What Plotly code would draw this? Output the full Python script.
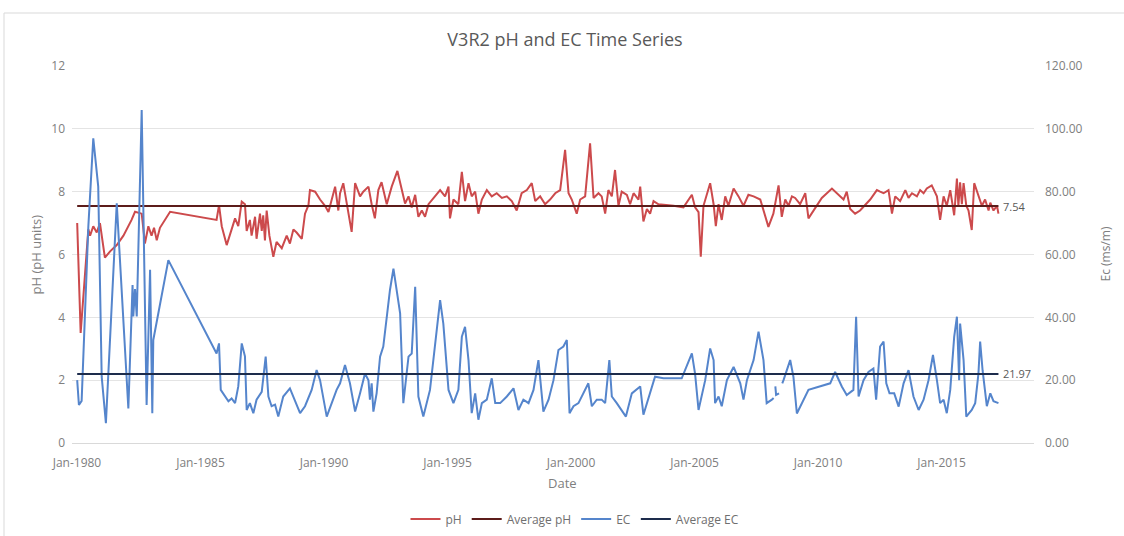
import datetime as dt
import plotly.graph_objects as go

# ---------------- data ----------------
ph_years = [1980.01, 1980.15, 1980.46, 1980.53, 1980.66, 1980.80, 1980.93, 1981.13, 1981.34, 1981.61,
            1981.88, 1982.08, 1982.21, 1982.35, 1982.62, 1982.75, 1982.89, 1983.02, 1983.12, 1983.23,
            1983.36, 1983.77, 1985.65, 1985.75, 1985.86, 1986.06, 1986.26, 1986.40, 1986.53, 1986.67,
            1986.80, 1986.87, 1987.00, 1987.07, 1987.21, 1987.27, 1987.41, 1987.48, 1987.54, 1987.61,
            1987.68, 1987.79, 1987.95, 1988.08, 1988.29, 1988.49, 1988.62, 1988.76, 1988.89, 1989.10,
            1989.23, 1989.37, 1989.43, 1989.64, 1989.84, 1990.04, 1990.18, 1990.31, 1990.45, 1990.58,
            1990.65, 1990.78, 1990.92, 1991.12, 1991.26, 1991.46, 1991.59, 1991.80, 1991.93, 1992.06,
            1992.20, 1992.33, 1992.54, 1992.74, 1992.97, 1993.15, 1993.28, 1993.42, 1993.55, 1993.69,
            1993.82, 1993.96, 1994.09, 1994.23, 1994.50, 1994.70, 1994.90, 1995.04, 1995.10, 1995.24,
            1995.44, 1995.58, 1995.71, 1995.85, 1995.98, 1996.12, 1996.25, 1996.39, 1996.59, 1996.79,
            1996.99, 1997.20, 1997.40, 1997.60, 1997.80, 1998.00, 1998.21, 1998.41, 1998.55, 1998.75,
            1998.95, 1999.15, 1999.36, 1999.56, 1999.76, 1999.90, 2000.03, 2000.23, 2000.37, 2000.57,
            2000.77, 2000.91, 2001.11, 2001.24, 2001.38, 2001.51, 2001.65, 2001.78, 2001.92, 2002.05,
            2002.26, 2002.39, 2002.53, 2002.73, 2002.80, 2002.93, 2003.07, 2003.20, 2003.34, 2003.54,
            2004.15, 2004.55, 2004.89, 2005.02, 2005.16, 2005.25, 2005.36, 2005.63, 2005.77, 2005.86,
            2005.97, 2006.10, 2006.24, 2006.37, 2006.58, 2006.78, 2006.98, 2007.18, 2007.39, 2007.66,
            2007.99, 2008.19, 2008.40, 2008.53, 2008.67, 2008.80, 2008.94, 2009.07, 2009.27, 2009.48,
            2009.61, 2009.81, 2010.15, 2010.56, 2011.03, 2011.16, 2011.30, 2011.50, 2011.70, 2012.11,
            2012.38, 2012.51, 2012.65, 2012.85, 2012.99, 2013.12, 2013.32, 2013.53, 2013.66, 2013.80,
            2014.00, 2014.13, 2014.27, 2014.40, 2014.60, 2014.81, 2014.94, 2015.08, 2015.21, 2015.35,
            2015.51, 2015.62, 2015.68, 2015.75, 2015.82, 2015.89, 2016.00, 2016.09, 2016.22, 2016.32,
            2016.49, 2016.63, 2016.76, 2016.90, 2016.97, 2017.10, 2017.24, 2017.30]
ph_values = [7.0, 3.5, 6.8, 6.6, 6.9, 6.7, 7.0, 5.9, 6.1, 6.3,
             6.6, 6.9, 7.1, 7.36, 7.3, 6.35, 6.9, 6.6, 6.85, 6.45,
             6.85, 7.36, 7.1, 7.57, 6.9, 6.3, 6.8, 7.15, 6.9, 7.68,
             7.6, 6.75, 7.1, 6.6, 7.2, 6.5, 7.3, 6.75, 7.25, 6.45,
             7.4, 6.6, 5.93, 6.4, 6.2, 6.6, 6.35, 6.8, 6.7, 6.5,
             7.3, 7.57, 8.05, 8.0, 7.75, 7.55, 7.35, 7.7, 8.16, 7.4,
             7.95, 8.27, 7.6, 6.72, 8.27, 7.85, 8.0, 8.16, 7.6, 7.15,
             8.05, 8.3, 7.6, 8.16, 8.66, 8.05, 7.62, 7.85, 7.5, 7.9,
             7.2, 7.4, 7.2, 7.6, 7.85, 8.05, 7.85, 8.16, 7.15, 7.75,
             7.6, 8.63, 7.7, 8.27, 7.85, 8.0, 7.3, 7.75, 8.05, 7.85,
             7.95, 7.8, 7.85, 7.7, 7.4, 7.95, 8.05, 8.27, 7.7, 7.85,
             7.6, 7.75, 7.95, 8.05, 9.33, 7.95, 7.75, 7.3, 7.75, 7.85,
             9.54, 7.8, 7.95, 7.85, 7.3, 8.05, 7.85, 8.69, 7.55, 8.0,
             7.9, 7.6, 7.95, 7.75, 8.16, 7.05, 7.45, 7.3, 7.7, 7.6,
             7.55, 7.5, 7.9, 7.5, 7.35, 5.93, 7.55, 8.27, 7.6, 6.9,
             7.6, 7.1, 7.85, 7.55, 8.1, 7.85, 7.55, 7.9, 7.85, 7.75,
             6.88, 7.3, 8.2, 7.2, 7.75, 7.55, 7.85, 7.8, 7.6, 7.95,
             7.15, 7.4, 7.8, 8.1, 7.75, 8.0, 7.45, 7.3, 7.4, 7.75,
             8.05, 8.0, 7.95, 8.05, 7.3, 7.85, 7.7, 8.05, 7.8, 7.95,
             7.85, 8.05, 7.95, 8.1, 8.2, 7.85, 7.1, 7.85, 7.55, 8.05,
             7.25, 8.42, 7.55, 8.3, 7.6, 8.27, 7.55, 7.4, 6.78, 8.27,
             7.85, 7.55, 7.75, 7.4, 7.65, 7.4, 7.55, 7.3]

ec_years = [1980.01, 1980.08, 1980.19, 1980.46, 1980.66, 1980.86, 1981.00, 1981.17, 1981.61, 1981.81,
            1982.08, 1982.25, 1982.28, 1982.35, 1982.42, 1982.62, 1982.82, 1982.96, 1983.05, 1983.09,
            1983.70, 1985.65, 1985.75, 1985.82, 1985.99, 1986.13, 1986.26, 1986.40, 1986.53, 1986.67,
            1986.80, 1986.87, 1987.00, 1987.14, 1987.27, 1987.48, 1987.64, 1987.75, 1987.88, 1988.02,
            1988.15, 1988.35, 1988.62, 1988.83, 1989.03, 1989.23, 1989.50, 1989.70, 1989.84, 1990.11,
            1990.31, 1990.51, 1990.65, 1990.85, 1991.05, 1991.26, 1991.46, 1991.66, 1991.80, 1991.86,
            1991.93, 1992.00, 1992.13, 1992.27, 1992.40, 1992.54, 1992.67, 1992.81, 1992.94, 1993.08,
            1993.21, 1993.42, 1993.55, 1993.69, 1993.82, 1994.02, 1994.29, 1994.50, 1994.70, 1994.83,
            1995.04, 1995.24, 1995.44, 1995.58, 1995.71, 1995.85, 1995.98, 1996.12, 1996.25, 1996.39,
            1996.59, 1996.79, 1996.93, 1997.13, 1997.40, 1997.67, 1997.87, 1998.07, 1998.28, 1998.48,
            1998.68, 1998.88, 1999.09, 1999.29, 1999.49, 1999.69, 1999.83, 1999.94, 2000.10, 2000.30,
            2000.50, 2000.70, 2000.84, 2001.04, 2001.24, 2001.38, 2001.55, 2001.65, 2001.85, 2002.05,
            2002.22, 2002.46, 2002.80, 2002.93, 2003.20, 2003.40, 2003.74, 2004.48, 2004.89, 2005.02,
            2005.16, 2005.29, 2005.43, 2005.63, 2005.77, 2005.83, 2005.97, 2006.10, 2006.31, 2006.58,
            2006.85, 2006.98, 2007.12, 2007.39, 2007.59, 2007.79, 2007.92, 2008.13, 2008.20, None,
            2008.27, 2008.30, 2008.42, None, 2008.55, 2008.60, 2008.87, 2009.00, 2009.14, 2009.61,
            2010.49, 2010.69, 2010.96, 2011.16, 2011.43, 2011.54, 2011.64, 2011.84, 2012.04, 2012.24,
            2012.35, 2012.45, 2012.51, 2012.65, 2012.76, 2012.89, 2013.08, 2013.26, 2013.46, 2013.66,
            2013.86, 2014.07, 2014.27, 2014.47, 2014.65, 2014.81, 2014.94, 2015.08, 2015.21, 2015.35,
            2015.51, 2015.62, 2015.71, 2015.75, 2015.89, 2016.00, 2016.22, 2016.36, 2016.49, 2016.56,
            2016.66, 2016.83, 2016.97, 2017.10, 2017.30]
ec_values = [20.0, 12.1, 13.4, 68.8, 97.0, 81.6, 21.1, 6.3, 76.3, 48.7,
             11.0, 50.3, 40.3, 49.0, 40.3, 106.0, 12.1, 55.1, 9.5, 32.8,
             58.2, 28.5, 31.7, 16.9, 14.8, 13.3, 14.2, 12.7, 18.0, 31.7,
             27.6, 10.5, 12.7, 9.5, 13.8, 16.3, 27.5, 14.8, 11.7, 12.2,
             8.4, 14.8, 17.4, 13.3, 9.5, 11.7, 16.9, 23.2, 20.0, 8.4,
             12.7, 16.9, 19.0, 24.8, 19.0, 10.0, 15.8, 22.1, 20.0, 13.8,
             19.0, 10.0, 15.8, 27.5, 30.7, 40.2, 48.7, 55.5, 48.7, 41.3,
             12.7, 27.5, 28.5, 49.7, 14.8, 8.4, 16.9, 31.7, 45.5, 38.0,
             16.9, 12.7, 16.9, 33.8, 37.0, 26.4, 9.5, 15.8, 7.4, 12.7,
             13.8, 20.6, 12.7, 12.7, 14.8, 17.4, 10.5, 13.8, 12.7, 16.9,
             26.4, 10.0, 13.8, 20.0, 29.6, 30.7, 32.8, 9.5, 11.7, 12.7,
             15.8, 19.0, 11.7, 13.8, 13.8, 12.7, 26.4, 14.8, 12.7, 10.5,
             8.4, 15.8, 18.0, 9.0, 15.8, 21.1, 20.6, 20.6, 28.5, 22.0,
             10.5, 14.8, 20.0, 30.1, 26.4, 12.7, 14.8, 11.7, 20.0, 24.2,
             19.0, 13.8, 20.0, 26.4, 35.4, 26.4, 12.7, 13.8, 14.3, None,
             18.0, 15.3, 15.8, None, 19.0, 20.0, 26.4, 21.1, 9.4, 16.9,
             19.0, 22.6, 18.0, 15.3, 16.9, 40.2, 14.8, 20.0, 22.6, 23.7,
             13.8, 23.0, 30.7, 32.3, 19.0, 15.8, 15.8, 11.6, 19.0, 23.2,
             14.8, 10.5, 13.8, 20.0, 28.0, 20.0, 12.7, 13.8, 9.5, 16.9,
             33.8, 40.2, 20.0, 38.0, 26.4, 8.4, 10.5, 12.7, 22.0, 32.3,
             23.0, 11.7, 15.8, 13.3, 12.7]

avg_ph = 7.54
avg_ec = 21.97
avg_span = [1980.01, 2017.30]
tick_years = [1980, 1985, 1990, 1995, 2000, 2005, 2010, 2015]


def to_date(y):
    if y is None:
        return None
    yr = int(y)
    start = dt.datetime(yr, 1, 1)
    end = dt.datetime(yr + 1, 1, 1)
    return start + (end - start) * (y - yr)


ph_dates = [to_date(y) for y in ph_years]
ec_dates = [to_date(y) for y in ec_years]
avg_dates = [to_date(y) for y in avg_span]

FONT = "Open Sans"
GRAY = "#808080"
C_PH = "#cc4a4c"
C_AVG_PH = "#5c1c1a"
C_EC = "#5585cc"
C_AVG_EC = "#1d2c4c"
TICK = dict(size=12, color=GRAY)

fig = go.Figure()
fig.add_trace(go.Scatter(x=ph_dates, y=ph_values, name="pH", mode="lines",
                         line=dict(color=C_PH, width=2)))
fig.add_trace(go.Scatter(x=avg_dates, y=[avg_ph, avg_ph], name="Average pH", mode="lines",
                         line=dict(color=C_AVG_PH, width=2)))
fig.add_trace(go.Scatter(x=ec_dates, y=ec_values, name="EC", mode="lines", yaxis="y2",
                         line=dict(color=C_EC, width=2), connectgaps=False))
fig.add_trace(go.Scatter(x=avg_dates, y=[avg_ec, avg_ec], name="Average EC", mode="lines",
                         yaxis="y2", line=dict(color=C_AVG_EC, width=2)))

W0, W1, H0, H1 = 72, 1034, 66, 443
PW, PH_ = W1 - W0, H1 - H0


def px(xp):
    return (xp - W0) / PW


def py(yp):
    return (H1 - yp) / PH_


fig.update_layout(
    width=1124, height=536,
    margin=dict(l=W0, r=1124 - W1, t=H0, b=536 - H1, autoexpand=False),
    paper_bgcolor="white", plot_bgcolor="white",
    font=dict(family=FONT, size=12, color=GRAY),
    showlegend=True,
    legend=dict(orientation="h", x=px(575), xanchor="center", y=py(519), yanchor="middle",
                font=dict(size=12, color="#6f6f6f"), itemwidth=30, tracegroupgap=0,
                bgcolor="rgba(0,0,0,0)"),
    title=dict(text="V3R2 pH and EC Time Series", x=565 / 1124, xanchor="center",
               y=1 - 40 / 536, yanchor="middle", font=dict(size=18, color="#595959", family=FONT)),
    xaxis=dict(type="date", range=[to_date(1979.8), to_date(2018.74)],
               tickvals=[dt.datetime(y, 1, 1) for y in tick_years],
               ticktext=["Jan-%d" % y for y in tick_years],
               showgrid=False, zeroline=False, showline=True, linecolor="#d9d9d9",
               ticks="", tickfont=TICK, automargin=False, ticklabelstandoff=9),
    yaxis=dict(range=[0, 12], dtick=2, showgrid=True, gridcolor="#e4e4e4", zeroline=False,
               tickfont=TICK, ticks="", ticklabelstandoff=6, automargin=False),
    yaxis2=dict(range=[0, 120], dtick=20, overlaying="y", side="right", showgrid=False,
                zeroline=False, tickformat=".2f", tickfont=TICK, ticks="",
                ticklabelstandoff=10, automargin=False),
)

anns = [
    dict(text="pH (pH units)", x=px(35), y=0.5, textangle=-90, showarrow=False,
         font=dict(size=13, color=GRAY)),
    dict(text="Ec (ms/m)", x=px(1105), y=0.5, textangle=-90, showarrow=False,
         font=dict(size=12, color=GRAY)),
    dict(text="Date", x=px(562), y=py(483), showarrow=False, font=dict(size=13, color=GRAY)),
]
for a in anns:
    a.update(xref="paper", yref="paper", xanchor="center", yanchor="middle")
fig.update_layout(annotations=anns)
fig.add_annotation(x=avg_dates[-1], y=avg_ph, xref="x", yref="y", text="7.54", showarrow=False,
                   xanchor="left", yanchor="middle", xshift=3, font=dict(size=11, color="#595959"))
fig.add_annotation(x=avg_dates[-1], y=avg_ec, xref="x", yref="y2", text="21.97", showarrow=False,
                   xanchor="left", yanchor="middle", xshift=3, font=dict(size=11, color="#595959"))

# light chart frame
fig.add_shape(type="rect", xref="paper", yref="paper", x0=px(4), x1=px(1140), y0=py(545), y1=py(13),
              line=dict(color="#d9d9d9", width=1), fillcolor="rgba(0,0,0,0)", layer="below")

fig.write_html("out.html", config={"displayModeBar": False},
               post_script="document.body.style.margin='0';document.body.style.overflow='hidden';")
